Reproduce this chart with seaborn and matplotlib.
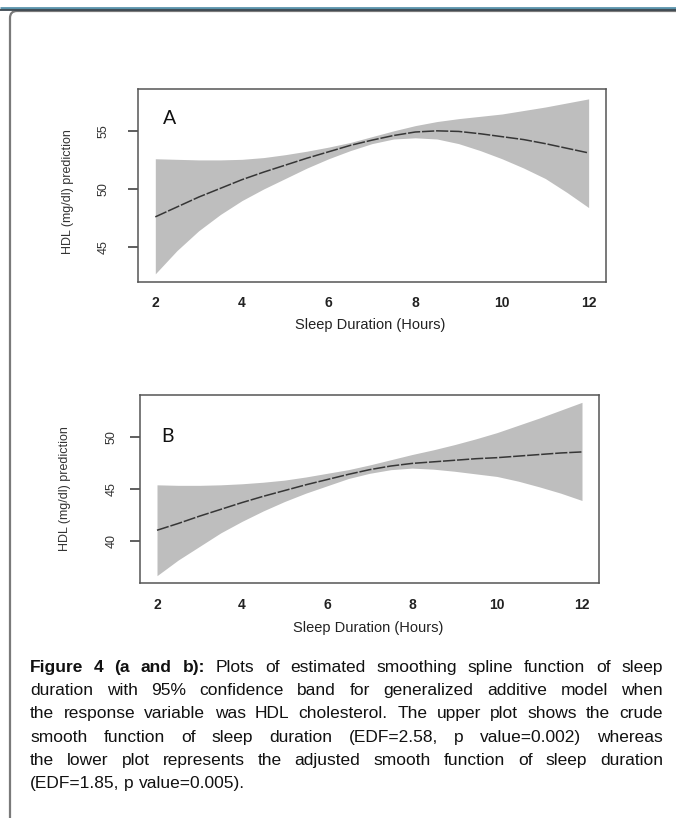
import matplotlib
matplotlib.use("Agg")
import matplotlib.pyplot as plt
import seaborn as sns
from matplotlib.path import Path
from matplotlib.patches import PathPatch
from matplotlib.ticker import FixedLocator

# sleep duration grid (every half hour)
hours = [2, 2.5, 3, 3.5, 4, 4.5, 5, 5.5, 6, 6.5, 7, 7.5, 8, 8.5, 9, 9.5,
         10, 10.5, 11, 11.5, 12]

# panel A - crude model
a_fit = [47.6, 48.45, 49.3, 50.05, 50.8, 51.45, 52.05, 52.65, 53.2, 53.75,
         54.2, 54.6, 54.9, 55.0, 54.95, 54.75, 54.5, 54.25, 53.9, 53.5, 53.1]
a_upper = [52.6, 52.55, 52.5, 52.5, 52.55, 52.7, 52.95, 53.25, 53.6, 54.0,
           54.5, 55.0, 55.45, 55.8, 56.05, 56.25, 56.45, 56.75, 57.05, 57.4, 57.75]
a_lower = [42.7, 44.7, 46.4, 47.8, 49.0, 50.0, 50.9, 51.8, 52.6, 53.3,
           53.9, 54.3, 54.4, 54.3, 53.9, 53.3, 52.6, 51.8, 50.9, 49.7, 48.4]

# panel B - adjusted model
b_fit = [41.05, 41.7, 42.4, 43.05, 43.7, 44.3, 44.85, 45.4, 45.9, 46.4,
         46.85, 47.2, 47.45, 47.6, 47.75, 47.9, 48.0, 48.15, 48.3, 48.45, 48.55]
b_upper = [45.4, 45.35, 45.35, 45.4, 45.5, 45.65, 45.85, 46.15, 46.5, 46.85,
           47.3, 47.8, 48.3, 48.75, 49.25, 49.8, 50.4, 51.1, 51.8, 52.55, 53.3]
b_lower = [36.7, 38.2, 39.5, 40.8, 41.9, 42.9, 43.8, 44.6, 45.3, 46.0,
           46.5, 46.85, 47.0, 46.9, 46.7, 46.45, 46.2, 45.75, 45.2, 44.6, 43.9]

x_major = [2, 4, 6, 8, 10, 12]
x_minor = [3, 5, 7, 9, 11]
a_yticks = [45, 50, 55]
b_yticks = [40, 45, 50]

xlabel = "Sleep Duration (Hours)"
ylabel = "HDL (mg/dl) prediction"

caption_lines = [
    "Plots of estimated smoothing spline function of sleep",
    "duration with 95% confidence band for generalized additive model when",
    "the response variable was HDL cholesterol. The upper plot shows the crude",
    "smooth function of sleep duration (EDF=2.58, p value=0.002) whereas",
    "the lower plot represents the adjusted smooth function of sleep duration",
    "(EDF=1.85, p value=0.005).",
]
caption_bold = "Figure 4 (a and b):"

sns.set_theme(style="white")
plt.rcParams["font.family"] = ["Liberation Sans", "DejaVu Sans"]

fig = plt.figure(figsize=(6.76, 8.18), dpi=100)

# page frame drawn in pixel space
page = fig.add_axes([0, 0, 1, 1], zorder=-5)
page.set_xlim(0, 676)
page.set_ylim(818, 0)
page.axis("off")
page.plot([0, 676], [8, 8], color="#5a93ab", lw=2.0, solid_capstyle="butt")
page.plot([0, 676], [10.3, 10.3], color="#3e4850", lw=1.3, solid_capstyle="butt")
frame = Path([(10, 818), (10, 18), (10, 11), (17, 11), (676, 11)],
             [Path.MOVETO, Path.LINETO, Path.CURVE3, Path.CURVE3, Path.LINETO])
page.add_patch(PathPatch(frame, fill=False, edgecolor="#7a7a7a", lw=1.6))


def draw_panel(rect, fit, lower, upper, ylim, yticks, letter, letter_xy,
               ytick_pad, ylabel_xy, xlabel_xy, xtick_pad):
    ax = fig.add_axes(rect)
    ax.fill_between(hours, lower, upper, color="#bebebe", lw=0)
    sns.lineplot(x=hours, y=fit, ax=ax, color="#363636", lw=1.1,
                 linestyle=(0, (8, 1.2)))
    ax.set_xlim(1.6, 12.4)
    ax.set_ylim(*ylim)
    ax.set_xticks(x_major)
    ax.xaxis.set_minor_locator(FixedLocator(x_minor))
    ax.set_yticks(yticks)
    ax.tick_params(axis="x", which="major", direction="inout", length=8.6,
                   width=1.1, color="#333333", pad=xtick_pad, labelsize=10,
                   labelcolor="#222222")
    ax.tick_params(axis="x", which="minor", direction="in", length=5,
                   width=1.1, color="#333333")
    ax.tick_params(axis="y", direction="out", length=7.2, width=1.1,
                   color="#333333", pad=ytick_pad, labelsize=9,
                   labelcolor="#333333", labelrotation=90, left=True)
    for lbl in ax.get_xticklabels():
        lbl.set_fontweight("bold")
    for lbl in ax.get_yticklabels():
        lbl.set_va("center")
    for sp in ax.spines.values():
        sp.set_visible(True)
        sp.set_color("#555555")
        sp.set_linewidth(1.1)
    ax.set_xlabel(xlabel, fontsize=10.5, color="#222222", va="center")
    ax.xaxis.set_label_coords(*xlabel_xy)
    ax.set_ylabel(ylabel, fontsize=9, color="#333333", va="center")
    ax.yaxis.set_label_coords(*ylabel_xy)
    ax.text(*letter_xy, letter, transform=ax.transAxes, fontsize=14,
            fontfamily=["Lato", "DejaVu Sans"], ha="center", va="center",
            color="#111111")
    ax.grid(False)
    return ax


draw_panel([0.2041, 0.6553, 0.6923, 0.2359], a_fit, a_lower, a_upper,
           (42.0, 58.6), a_yticks, "A", (0.068, 0.845), 13,
           (-0.150, 0.47), (0.496, -0.223), 5.5)
draw_panel([0.2071, 0.2873, 0.6790, 0.2298], b_fit, b_lower, b_upper,
           (36.0, 54.0), b_yticks, "B", (0.061, 0.777), 9,
           (-0.163, 0.50), (0.497, -0.239), 6.5)

# justified caption
renderer = fig.canvas.get_renderer()
left, right = 30, 663
baselines = [672, 695, 718, 742, 765, 788]
cap_size = 12.5
for i, line in enumerate(caption_lines):
    words = [(w, "bold") for w in caption_bold.split()] if i == 0 else []
    words += [(w, "normal") for w in line.split()]
    texts = []
    for w, weight in words:
        t = page.text(0, baselines[i], w, fontsize=cap_size, fontweight=weight,
                      color="#111111", va="baseline")
        texts.append(t)
    widths = [t.get_window_extent(renderer).width for t in texts]
    if i < len(caption_lines) - 1:
        gap = (right - left - sum(widths)) / (len(texts) - 1)
    else:
        gap = 0.28 * cap_size * 100 / 72
    x = left
    for t, w in zip(texts, widths):
        t.set_x(x)
        x += w + gap

fig.savefig("out.png", dpi=100)
